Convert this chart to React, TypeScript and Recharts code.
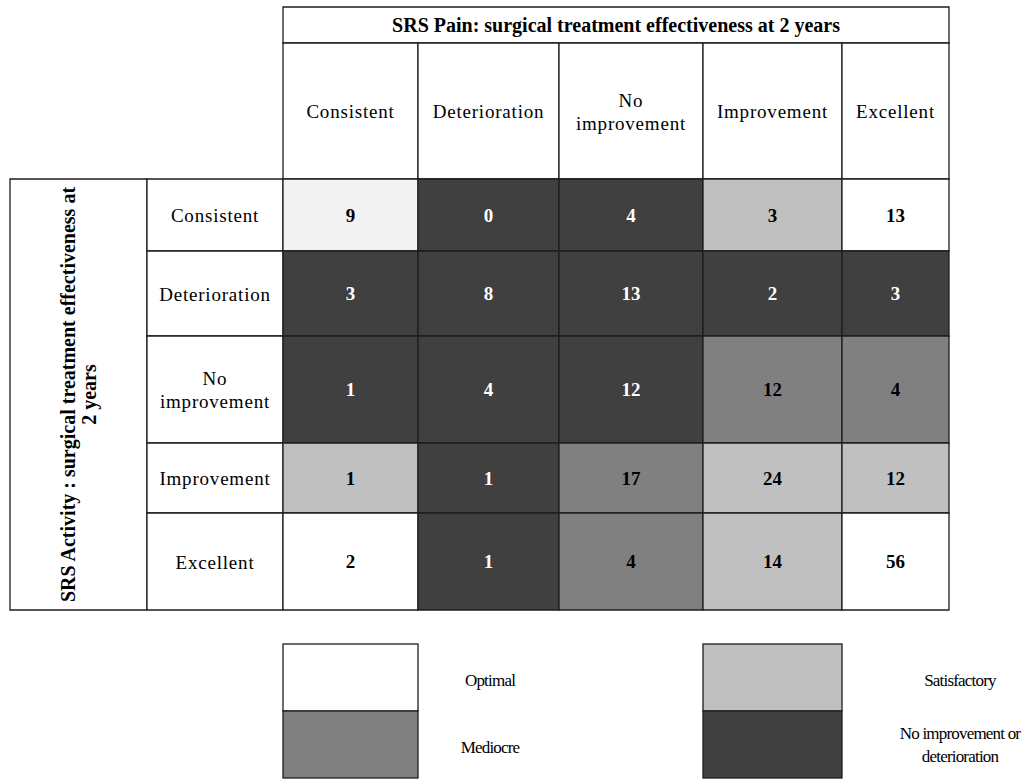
import { ScatterChart, Scatter, XAxis, YAxis, ReferenceArea, Legend } from 'recharts';

// SRS Pain (columns) and SRS Activity (rows) outcome levels
const painLevels = ['Consistent', 'Deterioration', 'No improvement', 'Improvement', 'Excellent'];
const activityLevels = ['Consistent', 'Deterioration', 'No improvement', 'Improvement', 'Excellent'];

// patient counts, rows = activity, columns = pain
const counts = [
  [9, 0, 4, 3, 13],
  [3, 8, 13, 2, 3],
  [1, 4, 12, 12, 4],
  [1, 1, 17, 24, 12],
  [2, 1, 4, 14, 56],
];

// combined effectiveness grade of each cell
const grades = [
  ['consistent', 'none', 'none', 'satisfactory', 'optimal'],
  ['none', 'none', 'none', 'none', 'none'],
  ['none', 'none', 'none', 'mediocre', 'mediocre'],
  ['satisfactory', 'none', 'mediocre', 'satisfactory', 'satisfactory'],
  ['optimal', 'none', 'mediocre', 'satisfactory', 'optimal'],
];

const legendItems = [
  { key: 'optimal', label: ['Optimal'] },
  { key: 'satisfactory', label: ['Satisfactory'] },
  { key: 'mediocre', label: ['Mediocre'] },
  { key: 'none', label: ['No improvement or', 'deterioration'] },
];

const title = 'SRS Pain: surgical treatment effectiveness at 2 years';
const sideTitle = ['SRS Activity : surgical treatment effectiveness at', '2 years'];

// styling / table geometry
const gradeColors: Record<string, string> = {
  consistent: '#f2f2f2',
  optimal: '#ffffff',
  satisfactory: '#c0c0c0',
  mediocre: '#808080',
  none: '#404040',
};
const FONT = '"Liberation Serif", "Times New Roman", serif';
const LINE = '#1e1e1e';
const W = 1031;
const H = 779;
const colWidths = [135, 141, 144, 139, 107];
const rowHeights = [72, 85, 107, 70, 97];
const HEAD_H = 136;
const TITLE_H = 36;
const LABEL_W = 136;
const SIDE_W = 137;
const margin = { top: 43, left: 147, right: 82, bottom: 169 };

const edges = (sizes: number[]) => sizes.reduce((acc, s) => [...acc, acc[acc.length - 1] + s], [0]);
const colEdges = edges(colWidths);
const rowEdges = edges(rowHeights);
const colMid = colWidths.map((w, i) => colEdges[i] + w / 2);
const rowMid = rowHeights.map((h, i) => rowEdges[i] + h / 2);
const xMax = colEdges[colEdges.length - 1];
const yMax = rowEdges[rowEdges.length - 1];

const cells = counts.flatMap((row, r) =>
  row.map((value, c) => ({ x: colMid[c], y: rowMid[r], value, grade: grades[r][c] }))
);

const nearest = (list: number[], v: number) =>
  list.reduce((best, cur, i) => (Math.abs(cur - v) < Math.abs(list[best] - v) ? i : best), 0);

const MultiLine = ({ x, y, lines, size = 19, spacing = 0.8, gap = 23, weight = 'normal', fill = '#000' }: any) => (
  <text
    x={x}
    y={y - ((lines.length - 1) * gap) / 2}
    textAnchor="middle"
    dominantBaseline="central"
    fontFamily={FONT}
    fontSize={size}
    fontWeight={weight}
    letterSpacing={spacing}
    fill={fill}
  >
    {lines.map((t: string, i: number) => (
      <tspan key={i} x={x} dy={i === 0 ? 0 : gap}>
        {t}
      </tspan>
    ))}
  </text>
);

const splitLabel = (s: string) => (s.includes(' ') ? s.split(' ') : [s]);

const ColumnTick = ({ x, y, payload }: any) => (
  <MultiLine x={x} y={y} lines={splitLabel(painLevels[nearest(colMid, payload.value)])} />
);

const RowTick = ({ x, y, payload }: any) => (
  <MultiLine x={x} y={y} lines={splitLabel(activityLevels[nearest(rowMid, payload.value)])} />
);

const CountLabel = ({ cx, cy, payload }: any) => (
  <text
    x={cx}
    y={cy}
    textAnchor="middle"
    dominantBaseline="central"
    fontFamily={FONT}
    fontSize={19}
    fontWeight="bold"
    fill={payload.grade === 'none' ? '#ffffff' : '#000000'}
  >
    {payload.value}
  </text>
);

const titleLabel = ({ viewBox }: any) => (
  <MultiLine
    x={viewBox.x + viewBox.width / 2}
    y={viewBox.y + viewBox.height / 2}
    lines={[title]}
    size={20}
    weight="bold"
    spacing={0}
  />
);

const sideLabel = ({ viewBox }: any) => {
  const cx = viewBox.x + viewBox.width / 2;
  const cy = viewBox.y + viewBox.height / 2;
  return (
    <g transform={`rotate(-90 ${cx} ${cy})`}>
      <MultiLine x={cx} y={cy} lines={sideTitle} size={20} weight="bold" spacing={0} gap={21} />
    </g>
  );
};

const LegendContent = () => {
  const left = margin.left + LABEL_W;
  const boxes = [
    { x0: left + colEdges[0], x1: left + colEdges[1], tx: 490 },
    { x0: left + colEdges[3], x1: left + colEdges[4], tx: 960 },
  ];
  const rowH = 67;
  return (
    <svg width={W} height={136} style={{ display: 'block', overflow: 'visible' }}>
      {legendItems.map((item, i) => {
        const b = boxes[i % 2];
        const row = Math.floor(i / 2);
        return (
          <g key={item.key}>
            <rect
              x={b.x0}
              y={row * rowH}
              width={b.x1 - b.x0}
              height={rowH}
              fill={gradeColors[item.key]}
              stroke={LINE}
              strokeWidth={1.3}
            />
            <MultiLine
              x={b.tx}
              y={row * rowH + rowH / 2 + (item.label.length > 1 ? 0 : 2)}
              lines={item.label}
              size={17}
              spacing={-0.8}
            />
          </g>
        );
      })}
    </svg>
  );
};

export default function App() {
  return (
    <div style={{ position: 'absolute', left: 0, top: 0, width: W, height: H, background: '#fff' }}>
      <ScatterChart width={W} height={H} margin={margin}>
        <XAxis
          type="number"
          dataKey="x"
          orientation="top"
          domain={[0, xMax]}
          ticks={colMid}
          tick={<ColumnTick />}
          height={HEAD_H}
          tickSize={0}
          tickMargin={HEAD_H / 2}
          axisLine={false}
          tickLine={false}
          interval={0}
        />
        <YAxis
          type="number"
          dataKey="y"
          reversed
          domain={[0, yMax]}
          ticks={rowMid}
          tick={<RowTick />}
          width={LABEL_W}
          tickSize={0}
          tickMargin={LABEL_W / 2}
          axisLine={false}
          tickLine={false}
          interval={0}
        />
        <ReferenceArea
          x1={0}
          x2={xMax}
          y1={-HEAD_H - TITLE_H}
          y2={-HEAD_H}
          fill="#fff"
          fillOpacity={1}
          stroke={LINE}
          strokeWidth={1.3}
          ifOverflow="visible"
          label={titleLabel}
        />
        {painLevels.map((p, c) => (
          <ReferenceArea
            key={`head-${p}`}
            x1={colEdges[c]}
            x2={colEdges[c + 1]}
            y1={-HEAD_H}
            y2={0}
            fill="#fff"
            fillOpacity={1}
            stroke={LINE}
            strokeWidth={1.3}
            ifOverflow="visible"
          />
        ))}
        <ReferenceArea
          x1={-LABEL_W - SIDE_W}
          x2={-LABEL_W}
          y1={0}
          y2={yMax}
          fill="#fff"
          fillOpacity={1}
          stroke={LINE}
          strokeWidth={1.3}
          ifOverflow="visible"
          label={sideLabel}
        />
        {activityLevels.map((a, r) => (
          <ReferenceArea
            key={`row-${a}`}
            x1={-LABEL_W}
            x2={0}
            y1={rowEdges[r]}
            y2={rowEdges[r + 1]}
            fill="#fff"
            fillOpacity={1}
            stroke={LINE}
            strokeWidth={1.3}
            ifOverflow="visible"
          />
        ))}
        {cells.map((cell, i) => {
          const r = Math.floor(i / 5);
          const c = i % 5;
          return (
            <ReferenceArea
              key={`cell-${i}`}
              x1={colEdges[c]}
              x2={colEdges[c + 1]}
              y1={rowEdges[r]}
              y2={rowEdges[r + 1]}
              fill={gradeColors[cell.grade]}
              fillOpacity={1}
              stroke={LINE}
              strokeWidth={1.3}
              ifOverflow="visible"
            />
          );
        })}
        <Scatter data={cells} isAnimationActive={false} shape={<CountLabel />} />
        <Legend
          layout="horizontal"
          verticalAlign="middle"
          align="center"
          content={<LegendContent />}
          wrapperStyle={{ position: 'absolute', left: 0, top: 644, width: W, height: 136, margin: 0, padding: 0 }}
        />
      </ScatterChart>
    </div>
  );
}
